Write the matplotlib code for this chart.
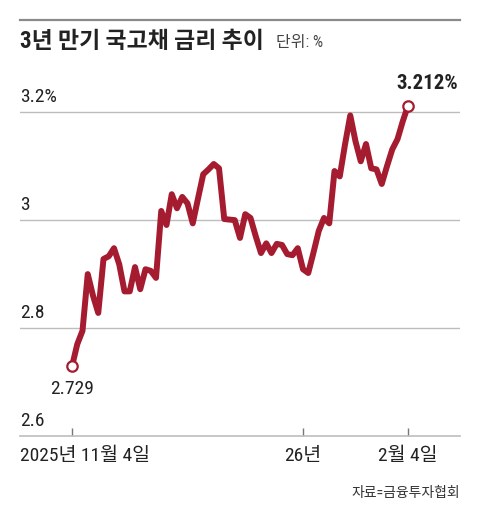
import matplotlib
matplotlib.use('Agg')
import matplotlib.pyplot as plt
from matplotlib.lines import Line2D
from matplotlib.transforms import ScaledTranslation

# 3-year treasury yield, daily closes
rates = [2.729, 2.770, 2.795, 2.900, 2.860, 2.828, 2.928, 2.933, 2.948, 2.918,
         2.868, 2.868, 2.913, 2.872, 2.909, 2.906, 2.893, 3.017, 2.991, 3.048,
         3.022, 3.043, 3.031, 2.994, 3.040, 3.085, 3.094, 3.104, 3.096, 3.002,
         3.001, 3.000, 2.967, 3.011, 3.004, 2.970, 2.939, 2.957, 2.939, 2.956,
         2.954, 2.937, 2.935, 2.948, 2.909, 2.902, 2.940, 2.980, 3.004, 2.994,
         3.091, 3.081, 3.140, 3.194, 3.146, 3.109, 3.141, 3.096, 3.094, 3.067,
         3.100, 3.131, 3.150, 3.183, 3.212]
x_ticks = [0, 44, len(rates) - 1]
x_labels = ['2025년 11월 4일', '26년', '2월 4일']
y_ticks = [2.6, 2.8, 3.0, 3.2]
y_labels = ['2.6', '2.8', '3', '3.2%']

RED = '#a51c30'
GRID = '#bdbdbd'
TXT = '#222222'
plt.rcParams['font.family'] = ['Roboto Condensed', 'Noto Sans CJK KR', 'DejaVu Sans']

W, H = 480, 520
fig = plt.figure(figsize=(W / 100, H / 100), dpi=100)
ax = fig.add_axes([20 / W, (H - 436) / H, 440 / W, 340 / H])

xs = list(range(len(rates)))
ax.plot(xs, rates, color=RED, lw=4.3, solid_joinstyle='round', zorder=3)
ax.plot([xs[0], xs[-1]], [rates[0], rates[-1]], 'o', ms=7.5, mfc='white',
        mec=RED, mew=1.6, zorder=4, clip_on=False)

n = len(rates) - 1
step = 336 / n
ax.set_xlim(-52 / step, n + 52 / step)
ax.set_ylim(2.6, 3.23)

for v in y_ticks[1:]:
    ax.axhline(v, color=GRID, lw=1, zorder=1)
for v, lab in zip(y_ticks, y_labels):
    ax.annotate(lab, (0, v), xycoords=('axes fraction', 'data'),
                xytext=(0, 11), textcoords='offset points',
                ha='left', va='center', fontsize=14, color=TXT)

for s in ['top', 'right', 'left']:
    ax.spines[s].set_visible(False)
ax.spines['bottom'].set_color(GRID)
ax.spines['bottom'].set_linewidth(1.2)
ax.set_yticks([])
ax.set_xticks(x_ticks)
ax.set_xticklabels(x_labels)
ax.tick_params(axis='x', direction='in', length=6, width=1, color='#777777',
               labelsize=14, labelcolor=TXT, pad=8)
first = ax.get_xticklabels()[0]
first.set_ha('left')
first.set_transform(first.get_transform() + ScaledTranslation(-0.52, 0, fig.dpi_scale_trans))

ax.annotate('3.212%', (xs[-1], rates[-1]), xytext=(14, 16), textcoords='offset points',
            ha='center', va='center', fontsize=15, fontweight='bold', color=TXT)
ax.annotate('2.729', (xs[0], rates[0]), xytext=(0, -16), textcoords='offset points',
            ha='center', va='center', fontsize=14, color=TXT)

# header
fig.add_artist(Line2D([20 / W, 460 / W], [1 - 20 / H, 1 - 20 / H],
                      color='#8a8a8a', lw=1.6))
fig.text(20 / W, 1 - 42 / H, '3년 만기 국고채 금리 추이', fontsize=16.5,
         fontweight='bold', color=TXT, ha='left', va='center')
fig.text(276 / W, 1 - 43 / H, '단위: %', fontsize=11.5, color='#444444',
         ha='left', va='center')
fig.text(460 / W, 1 - 493 / H, '자료=금융투자협회', fontsize=10, color='#333333',
         ha='right', va='center')

fig.savefig('out.png', dpi=100)
